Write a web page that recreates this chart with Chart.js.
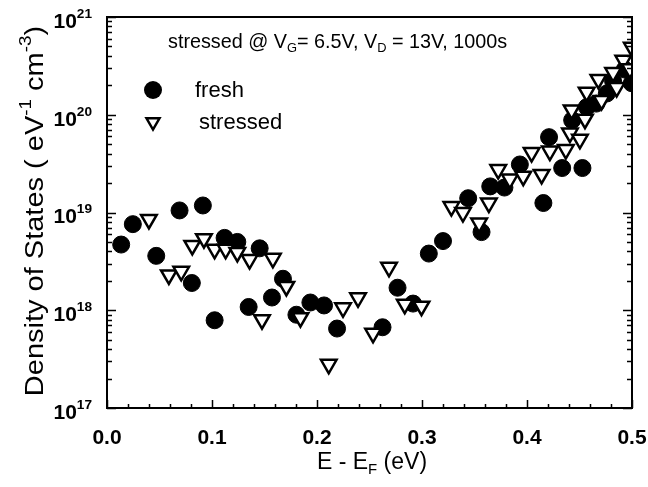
<!DOCTYPE html>
<html>
<head>
<meta charset="utf-8">
<script src="https://cdn.jsdelivr.net/npm/chart.js@4.4.1/dist/chart.umd.min.js"></script>
<style>
  html, body { margin: 0; padding: 0; background: #fff; }
  #wrap { width: 648px; height: 487px; }
</style>
</head>
<body>
<div id="wrap"><canvas id="dos"></canvas></div>
<script>
// E - EF (eV) and density of states (eV^-1 cm^-3)
const freshE = [0.0135, 0.0246, 0.0469, 0.0691, 0.0808, 0.0913, 0.1025, 0.112, 0.1241, 0.1349,
  0.1454, 0.1571, 0.1676, 0.1804, 0.1937, 0.2067, 0.2191, 0.2624, 0.2767, 0.2915,
  0.3065, 0.320, 0.344, 0.3567, 0.365, 0.3785, 0.3932, 0.4156, 0.421, 0.4335,
  0.443, 0.4528, 0.457, 0.466, 0.476, 0.482, 0.493, 0.4998];
const freshDos = [4.7e18, 7.6e18, 3.6e18, 1.05e19, 1.9e18, 1.18e19, 7.9e17, 5.5e18, 5.0e18, 1.08e18,
  4.3e18, 1.35e18, 2.1e18, 9.0e17, 1.2e18, 1.12e18, 6.5e17, 6.7e17, 1.7e18, 1.17e18,
  3.8e18, 5.1e18, 1.4e19, 6.3e18, 1.85e19, 1.8e19, 3.1e19, 1.25e19, 5.9e19, 2.85e19,
  8.8e19, 2.85e19, 1.2e20, 1.3e20, 1.65e20, 2.2e20, 2.9e20, 2.1e20];

const stressedE = [0.0399, 0.0589, 0.0707, 0.0812, 0.0923, 0.1025, 0.113, 0.1241, 0.1358, 0.1476,
  0.158, 0.1708, 0.1842, 0.2112, 0.2248, 0.2391, 0.2534, 0.2686, 0.2836, 0.2995,
  0.328, 0.339, 0.3544, 0.3637, 0.3726, 0.3837, 0.3964, 0.4044, 0.4139, 0.4218,
  0.437, 0.4409, 0.4425, 0.4504, 0.4552, 0.4568, 0.468, 0.471, 0.482, 0.4854,
  0.4917, 0.498, 0.4998];
const stressedDos = [8.5e18, 2.3e18, 2.5e18, 4.6e18, 5.4e18, 4.2e18, 4.2e18, 3.9e18, 3.3e18, 8.0e17,
  3.4e18, 1.75e18, 8.4e17, 2.8e17, 1.06e18, 1.34e18, 5.8e17, 2.75e18, 1.15e18, 1.1e18,
  1.15e19, 1.0e19, 7.8e18, 1.25e19, 2.75e19, 2.2e19, 2.35e19, 4.1e19, 2.45e19, 4.25e19,
  4.4e19, 6.5e19, 1.12e20, 5.6e19, 9.0e19, 1.7e20, 2.3e20, 1.4e20, 2.7e20, 1.9e20,
  3.6e20, 2.95e20, 4.9e20];

const xTicks = [0, 0.1, 0.2, 0.3, 0.4, 0.5];
const yDecades = [17, 18, 19, 20, 21];

const FONT = '"Liberation Sans", Arial, sans-serif';

// draw text made of pieces, some raised (sup) or lowered (sub)
function richWidth(ctx, parts, size) {
  let w = 0;
  parts.forEach(p => {
    const s = p.s ? size * 0.65 : size;
    ctx.font = (p.bold ? 'bold ' : '') + s + 'px ' + FONT;
    w += ctx.measureText(p.t).width;
  });
  return w;
}
function drawRich(ctx, parts, x, y, size, align) {
  const w = richWidth(ctx, parts, size);
  let cx = align === 'center' ? x - w / 2 : align === 'right' ? x - w : x;
  ctx.textAlign = 'left';
  ctx.textBaseline = 'middle';
  parts.forEach(p => {
    const s = p.s ? size * 0.65 : size;
    ctx.font = (p.bold ? 'bold ' : '') + s + 'px ' + FONT;
    const dy = p.s === 'sup' ? -size * 0.38 : p.s === 'sub' ? size * 0.3 : 0;
    ctx.fillText(p.t, cx, y + dy);
    cx += ctx.measureText(p.t).width;
  });
}

const decorations = {
  id: 'decorations',
  afterDraw(chart) {
    const { ctx, chartArea: a, scales: { x, y } } = chart;
    ctx.save();
    ctx.strokeStyle = '#000';
    ctx.fillStyle = '#000';

    // frame
    ctx.lineWidth = 2;
    ctx.strokeRect(a.left, a.top, a.right - a.left, a.bottom - a.top);

    // x ticks, inward: major every 0.1, minor every 0.02
    ctx.lineWidth = 1.5;
    ctx.beginPath();
    for (let i = 0; i <= 25; i++) {
      const px = Math.round(x.getPixelForValue(i / 50)) + 0.5;
      const len = i % 5 === 0 ? 8 : 4;
      ctx.moveTo(px, a.bottom);
      ctx.lineTo(px, a.bottom - len);
    }
    // y ticks on both sides, log minors
    for (let d = 17; d <= 21; d++) {
      for (let m = 1; m <= 9; m++) {
        if (d === 21 && m > 1) break;
        const py = Math.round(y.getPixelForValue(m * Math.pow(10, d))) + 0.5;
        const len = m === 1 ? 9 : 5;
        ctx.moveTo(a.left, py);
        ctx.lineTo(a.left + len, py);
        ctx.moveTo(a.right, py);
        ctx.lineTo(a.right - len, py);
      }
    }
    ctx.stroke();

    // y tick labels 10^n
    yDecades.forEach(d => {
      const py = y.getPixelForValue(Math.pow(10, d));
      drawRich(ctx, [{ t: '10', bold: true }, { t: String(d), s: 'sup', bold: true }], 92, py + 5, 21, 'right');
    });

    // axis titles
    drawRich(ctx, [{ t: 'E - E' }, { t: 'F', s: 'sub' }, { t: ' (eV)' }], 372, 463, 23, 'center');
    ctx.save();
    ctx.translate(36, 211);
    ctx.rotate(-Math.PI / 2);
    ctx.scale(1.16, 1); // the source figure's vertical text is drawn taller
    drawRich(ctx, [{ t: 'Density of States ( eV' }, { t: '-1', s: 'sup' }, { t: ' cm' }, { t: '-3', s: 'sup' }, { t: ')' }], 0, 0, 25, 'center');
    ctx.restore();

    // annotation
    drawRich(ctx, [{ t: 'stressed @ V' }, { t: 'G', s: 'sub' }, { t: '= 6.5V, V' }, { t: 'D', s: 'sub' }, { t: ' = 13V, 1000s' }], 168, 43, 19.8, 'left');

    // legend
    ctx.beginPath();
    ctx.arc(153, 90, 9, 0, Math.PI * 2);
    ctx.fill();
    drawRich(ctx, [{ t: 'fresh' }], 195, 91, 22, 'left');
    ctx.beginPath();
    const r = 7.5;
    ctx.moveTo(153 - r * 0.866, 122 - r / 2);
    ctx.lineTo(153 + r * 0.866, 122 - r / 2);
    ctx.lineTo(153, 122 + r);
    ctx.closePath();
    ctx.fillStyle = '#fff';
    ctx.fill();
    ctx.lineWidth = 2.5;
    ctx.stroke();
    ctx.fillStyle = '#000';
    drawRich(ctx, [{ t: 'stressed' }], 199, 123, 22, 'left');

    ctx.restore();
  }
};

new Chart(document.getElementById('dos'), {
  type: 'scatter',
  data: {
    datasets: [
      {
        label: 'fresh',
        data: freshE.map((e, i) => ({ x: e, y: freshDos[i] })),
        pointStyle: 'circle',
        pointRadius: 8.5,
        pointBackgroundColor: '#000',
        pointBorderColor: '#000',
        pointBorderWidth: 1,
        order: 2
      },
      {
        label: 'stressed',
        data: stressedE.map((e, i) => ({ x: e, y: stressedDos[i] })),
        pointStyle: 'triangle',
        pointRotation: 180,
        pointRadius: 9,
        pointBackgroundColor: '#fff',
        pointBorderColor: '#000',
        pointBorderWidth: 2.5,
        order: 1
      }
    ]
  },
  options: {
    responsive: true,
    maintainAspectRatio: false,
    animation: false,
    events: [],
    layout: { padding: { top: 17, right: 16, left: 0, bottom: 0 } },
    plugins: { legend: { display: false }, tooltip: { enabled: false } },
    scales: {
      x: {
        type: 'linear',
        min: 0,
        max: 0.5,
        afterFit(scale) {
          scale.height = 79;
          scale.paddingLeft = 0;
          scale.paddingRight = 0;
        },
        afterBuildTicks(scale) { scale.ticks = xTicks.map(v => ({ value: v })); },
        grid: { display: false },
        border: { display: false },
        ticks: {
          padding: 10,
          maxRotation: 0,
          color: '#000',
          font: { family: FONT, size: 21, weight: 'bold' },
          callback: v => v.toFixed(1)
        }
      },
      y: {
        type: 'logarithmic',
        min: 1e17,
        max: 1e21,
        afterFit(scale) { scale.width = 107; },
        grid: { display: false },
        border: { display: false },
        ticks: { display: false }
      }
    }
  },
  plugins: [decorations]
});
</script>
</body>
</html>
